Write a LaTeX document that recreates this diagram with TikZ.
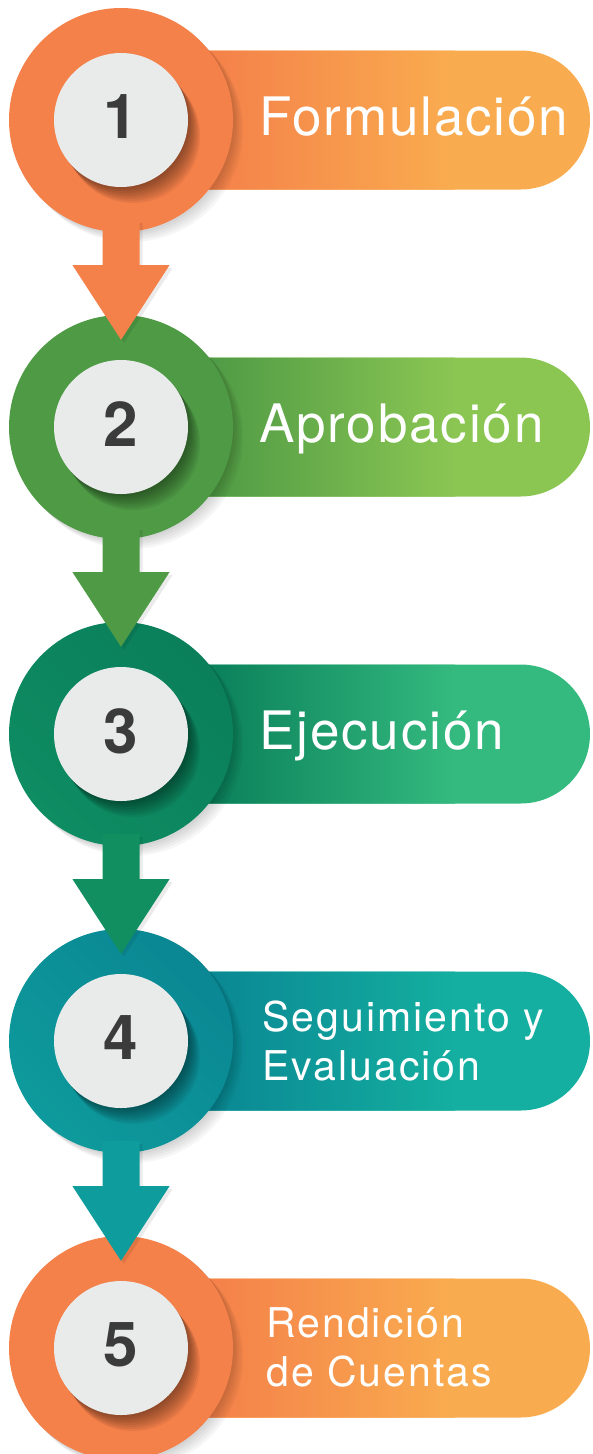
\documentclass[tikz,border=0pt]{standalone}
\usepackage{fontspec}
\setmainfont{TeX Gyre Heros}
\usetikzlibrary{positioning}

\definecolor{orangeA}{HTML}{F4804A}
\definecolor{orangeB}{HTML}{F9AC4F}
\definecolor{greenA}{HTML}{4E9A45}
\definecolor{greenB}{HTML}{8BC653}
\definecolor{jadeA}{HTML}{0A7F5A}
\definecolor{jadeR}{HTML}{0E8C62}
\definecolor{jadeB}{HTML}{34BA7F}
\definecolor{tealA}{HTML}{0A8793}
\definecolor{tealR}{HTML}{0E9A9C}
\definecolor{tealB}{HTML}{14AFA0}
\definecolor{arrowjade}{HTML}{118F60}
\definecolor{arrowteal}{HTML}{0E9C9C}
\definecolor{discgray}{HTML}{E9EBEA}
\definecolor{numgray}{HTML}{3B3B3B}

\begin{document}
\begin{tikzpicture}[x=1pt,y=-1pt,
    ring/.style={circle,minimum size=224pt,inner sep=0pt},
    disc/.style={circle,fill=discgray,minimum size=134pt,inner sep=0pt},
    num/.style={font=\fontsize{62}{62}\selectfont\bfseries,text=numgray,inner sep=0pt},
    big label/.style={font=\fontsize{53}{53}\selectfont\addfontfeature{LetterSpace=3.5},text=white,anchor=base west,inner sep=0pt},
    small label/.style={font=\fontsize{41}{49}\selectfont\addfontfeature{LetterSpace=5},text=white,align=left,anchor=base west,inner sep=0pt}]

  \useasboundingbox (0,0) rectangle (592,1454);
  \clip (0,0) rectangle (592,1454);

  % one step: bar, ring, disc with its shadow, number
  \foreach \i/\y/\ca/\cr/\cb in {1/120/orangeA/orangeA/orangeB, 2/427/greenA/greenA/greenB,
      3/734/jadeA/jadeR/jadeB, 4/1041/tealA/tealR/tealB, 5/1348/orangeA/orangeA/orangeB} {
    \begin{scope}
      \clip[rounded corners=69.5pt] (121,\y-69.5) rectangle (590,\y+69.5);
      \fill[\cb] (121,\y-70) rectangle (590,\y+70);
      \fill[\ca] (121,\y-70) rectangle (206,\y+70);
      \shade[left color=\ca,right color=\cb] (205,\y-70) rectangle (455,\y+70);
    \end{scope}
    \foreach \k in {1,...,5}
      \fill[black,opacity=0.035] (121+2*\k,\y+2*\k) circle (112);
    \node[ring,left color=\ca,right color=\cr,shading angle=-45] (ring\i) at (121,\y) {};
    \foreach \k in {1,...,8}
      \fill[black,opacity=0.06] (121+1.5*\k,\y+2*\k) circle (67);
    \node[disc] (disc\i) at (121,\y) {};
    \node[num] (num\i) at (121,\y-3) {\i};
  }

  % block arrows between the rings
  \foreach \i/\j/\ac in {1/2/orangeA, 2/3/greenA, 3/4/arrowjade, 4/5/arrowteal} {
    \foreach \s/\col/\op in {3/black/0.08, 0/\ac/1}
      \fill[\col,opacity=\op,transform canvas={shift={(\s pt,-\s pt)}}]
        ([xshift=-18.5pt,yshift=12pt]ring\i.south) -- ([xshift=18.5pt,yshift=12pt]ring\i.south)
        -- ([xshift=18.5pt,yshift=-33pt]ring\i.south) -- ([xshift=48.5pt,yshift=-33pt]ring\i.south)
        -- ([yshift=-25pt]ring\j.north)
        -- ([xshift=-48.5pt,yshift=-33pt]ring\i.south) -- ([xshift=-18.5pt,yshift=-33pt]ring\i.south)
        -- cycle;
  }

  \node[big label] (lab1) at (259,135) {Formulación};
  \node[big label] (lab2) at (259,442) {Aprobación};
  \node[big label] (lab3) at (259,749) {Ejecución};
  \node[small label] (lab4) at (262,1080) {Seguimiento y\\Evaluación};
  \node[small label] (lab5) at (266,1386) {Rendición\\de Cuentas};
\end{tikzpicture}
\end{document}
